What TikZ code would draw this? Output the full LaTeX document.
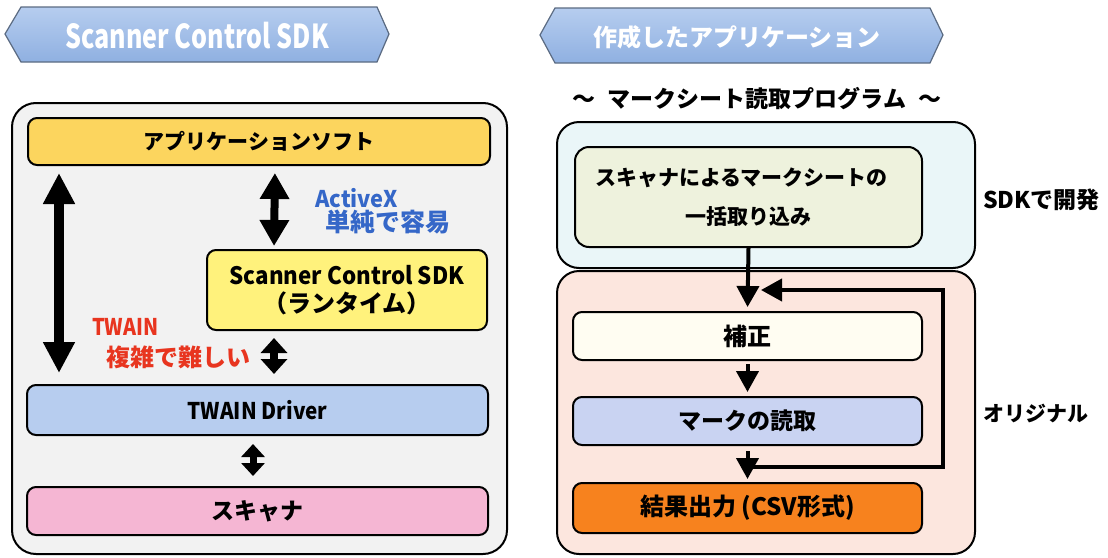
\documentclass[tikz,border=0pt]{standalone}
\usepackage{fontspec}
\setmainfont{Noto Sans CJK JP}
\usepackage{graphicx}
\usetikzlibrary{arrows.meta,calc}
\definecolor{bannerTop}{HTML}{B6CDEF}
\definecolor{bannerBot}{HTML}{8FB0E1}
\definecolor{bannerLine}{HTML}{5B6B82}
\definecolor{leftBg}{HTML}{F2F2F2}
\definecolor{appFill}{HTML}{FCD55E}
\definecolor{sdkFill}{HTML}{FFF27C}
\definecolor{twainFill}{HTML}{B7CDEF}
\definecolor{scanFill}{HTML}{F5B6D3}
\definecolor{upperFill}{HTML}{EAF6F8}
\definecolor{captureFill}{HTML}{EEF2DD}
\definecolor{lowerFill}{HTML}{FCE6DE}
\definecolor{hoseiFill}{HTML}{FFFDF2}
\definecolor{markFill}{HTML}{C9D3F2}
\definecolor{kekkaFill}{HTML}{F7821E}
\definecolor{blueTxt}{HTML}{3567C8}
\definecolor{redTxt}{HTML}{E8351F}
\newcommand{\fsz}[1]{\fontsize{#1}{#1}\selectfont}
\newcommand{\cond}[2]{\scalebox{#1}[1]{#2}}
\begin{document}
\begin{tikzpicture}[x=1pt,y=-1pt,
  banner/.style={draw=bannerLine, line width=1.2pt, top color=bannerTop, bottom color=bannerBot},
  bannertext/.style={text=white, font=\bfseries\fsz{24}, inner sep=0pt},
  outerbox/.style={draw=black, line width=2pt, rounded corners=24pt, inner sep=0pt},
  stepbox/.style={draw=black, line width=2pt, rounded corners=9pt, inner sep=0pt, font=\bfseries\fsz{21}, align=center},
  label/.style={inner sep=0pt, font=\bfseries\fsz{21}, anchor=west},
  bigarrow/.style={line width=10pt, {Triangle[length=31pt,width=30pt]}-{Triangle[length=31pt,width=30pt]}},
  midarrow/.style={line width=8pt, {Triangle[length=26pt,width=28pt]}-{Triangle[length=26pt,width=28pt]}},
  shortarrow/.style={line width=8pt, {Triangle[length=15pt,width=26pt]}-{Triangle[length=15pt,width=26pt]}},
  smallarrow/.style={line width=7pt, {Triangle[length=13pt,width=23pt]}-{Triangle[length=13pt,width=23pt]}},
  flow/.style={line width=4pt, -{Triangle[length=21pt,width=22pt]}},
]
\useasboundingbox (0,0) rectangle (1108,557);
\fill[white] (0,0) rectangle (1108,557);

% ---- banners
\draw[banner] (5,34) -- (21,7) -- (377,7) -- (389,34) -- (377,62) -- (21,62) -- cycle;
\node[bannertext] (titleL) at (197,36) {\cond{0.76}{\fsz{33}Scanner Control SDK}};
\draw[banner] (540,35) -- (555,8) -- (930,8) -- (943,35) -- (930,63) -- (555,63) -- cycle;
\node[bannertext] (titleR) at (737,37) {作成したアプリケーション};
\node[inner sep=0pt, font=\bfseries\fsz{23}] (subtitle) at (757,99) {～\hspace{12pt}マークシート読取プログラム\hspace{12pt}～};

% ---- left panel
\node[outerbox, fill=leftBg, minimum width=495pt, minimum height=451pt] (leftbg) at (259.5,328.5) {};
\node[stepbox, fill=appFill, minimum width=462pt, minimum height=47pt] (app) at (259,141.5) {アプリケーションソフト};
\node[stepbox, fill=sdkFill, minimum width=280pt, minimum height=80pt, font=\bfseries\fsz{24}] (sdk) at (347,290) {\cond{0.93}{Scanner Control SDK}\\[4pt]（ランタイム）};
\node[stepbox, fill=twainFill, minimum width=461pt, minimum height=50pt, font=\bfseries\fsz{23}] (twain) at (257.5,410) {\cond{0.9}{TWAIN Driver}};
\node[stepbox, fill=scanFill, minimum width=461pt, minimum height=48pt, font=\bfseries\fsz{23}] (scanner) at (257.5,511) {スキャナ};

\node[label, text=blueTxt, font=\bfseries\fsz{23}] (activex) at (315,198) {\cond{0.95}{ActiveX}};
\node[label, text=blueTxt, font=\bfseries\fsz{25}] (easy) at (325,222) {単純で容易};
\node[label, text=redTxt, font=\bfseries\fsz{23}] (twainlbl) at (92,327) {\cond{0.86}{TWAIN}};
\node[label, text=redTxt, font=\bfseries\fsz{24}] (hard) at (106,357) {複雑で難しい};

\draw[bigarrow, shorten <=7pt, shorten >=11pt] ([xshift=32pt]app.south west) -- ([xshift=33pt]twain.north west);
\draw[midarrow, shorten <=7pt, shorten >=3pt] ([xshift=16pt]app.south) -- ([xshift=68pt]sdk.north west);
\draw[shortarrow, shorten <=7pt, shorten >=10pt] ([xshift=68pt]sdk.south west) -- ([xshift=248pt]twain.north west);
\draw[smallarrow, shorten <=8pt, shorten >=10pt] ([xshift=-4.5pt]twain.south) -- ([xshift=-4.5pt]scanner.north);

% ---- right panel
\node[outerbox, rounded corners=22pt, fill=upperFill, minimum width=418pt, minimum height=146pt] (upper) at (766,195) {};
\node[outerbox, rounded corners=22pt, fill=lowerFill, minimum width=418pt, minimum height=283pt] (lower) at (766,412.5) {};
\node[stepbox, fill=captureFill, minimum width=347pt, minimum height=100pt, rounded corners=14pt] (capture) at (748.5,197) {\hspace*{-14pt}スキャナによるマークシートの\\[18pt]一括取り込み};
\node[stepbox, fill=hoseiFill, minimum width=349pt, minimum height=48pt, font=\bfseries\fsz{24}] (hosei) at (747.5,336) {補正};
\node[stepbox, fill=markFill, minimum width=349pt, minimum height=48pt, font=\bfseries\fsz{23}] (mark) at (747.5,421) {マークの読取};
\node[stepbox, fill=kekkaFill, minimum width=349pt, minimum height=50pt, font=\bfseries\fsz{24}] (kekka) at (747.5,508) {結果出力 (CSV形式)};

\node[label, font=\bfseries\fsz{23}] (sdkdev) at (983,200) {SDKで開発};
\node[label] (original) at (983,413) {オリジナル};

\draw[flow, shorten >=4pt] (capture.south) -- (hosei.north);
\draw[flow, shorten <=3pt, shorten >=4pt] (hosei.south) -- (mark.north);
\draw[flow, shorten <=5pt, shorten >=3pt] (mark.south) -- (kekka.north);
\coordinate (loopA) at (750,467);
\coordinate (loopB) at (943,290);
\coordinate (loopC) at (761,290);
\draw[flow, line join=miter] (loopA) -| (loopB) -- (loopC);
\end{tikzpicture}
\end{document}
